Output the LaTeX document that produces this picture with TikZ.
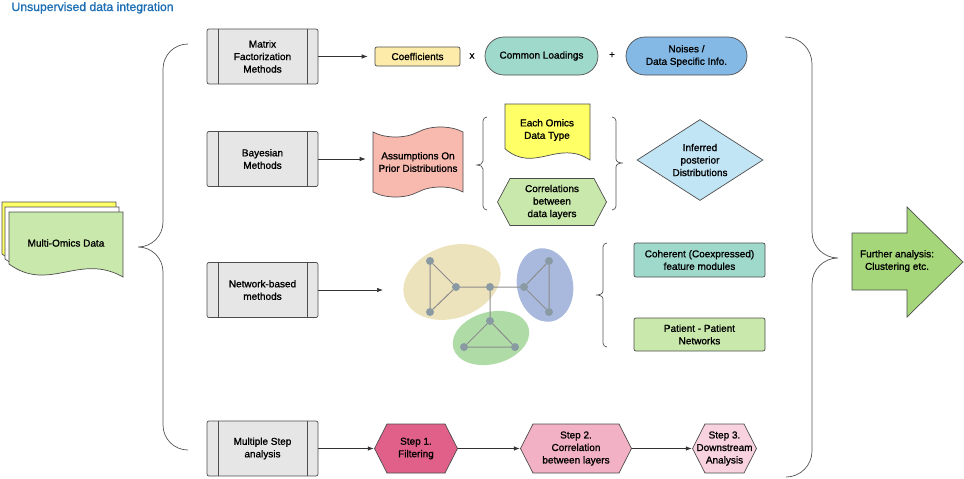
\documentclass[tikz,border=0pt]{standalone}
\usepackage{fontspec}
\setmainfont[FakeBold=1.2]{Liberation Sans}
\usetikzlibrary{arrows.meta,positioning,shapes.geometric,shapes.misc,shapes.symbols}

\definecolor{boxgray}{HTML}{E6E6E6}
\definecolor{linegray}{HTML}{4D4D4D}
\definecolor{arrowgray}{HTML}{333333}
\definecolor{bracegray}{HTML}{555555}
\definecolor{titleblue}{HTML}{1F6FB5}
\definecolor{coefyellow}{HTML}{FDEBA9}
\definecolor{loadteal}{HTML}{9FD9CB}
\definecolor{noiseblue}{HTML}{84B9E5}
\definecolor{tapepink}{HTML}{F8B9AF}
\definecolor{omicsyellow}{HTML}{FFFF66}
\definecolor{softgreen}{HTML}{C9E8AB}
\definecolor{inferblue}{HTML}{C2E5F6}
\definecolor{furthergreen}{HTML}{A5D77A}
\definecolor{stepdark}{HTML}{E0608A}
\definecolor{stepmid}{HTML}{F3B1C6}
\definecolor{steplight}{HTML}{F8D2DE}
\definecolor{dotgray}{HTML}{8A9AA3}
\definecolor{edgegray}{HTML}{8C8C8C}
\definecolor{ellyellow}{HTML}{ECE2BB}
\definecolor{ellblue}{HTML}{A9B9DD}
\definecolor{ellgreen}{HTML}{AFDBA7}

% document shape: fill, left, top, width, height
\newcommand{\docshape}[5]{\filldraw[edgeline, fill=#1, shift={(#2,#3)}, xscale=#4, yscale=#5] (0,0) -- (1,0) -- (1,1) .. controls (0.62,0.62) and (0.35,1.25) .. (0,0.8) -- cycle;}

\tikzset{
	every node/.style={font=\fontsize{10}{12.5}\selectfont, align=center},
	edgeline/.style={draw=linegray, line width=0.7pt},
	method/.style={edgeline, fill=boxgray, rounded corners=2pt, minimum width=111pt, minimum height=55pt, inner sep=0pt,
		path picture={\draw[linegray, line width=0.7pt] ([xshift=11pt]path picture bounding box.north west) -- ([xshift=11pt]path picture bounding box.south west) ([xshift=-11pt]path picture bounding box.north east) -- ([xshift=-11pt]path picture bounding box.south east);}},
	flowbox/.style={edgeline, inner sep=0pt},
	hexbox/.style={inner sep=0pt, minimum height=50pt,
		path picture={\filldraw[fill=#1, draw=linegray, line width=0.7pt] ([xshift=0.5pt]path picture bounding box.west) -- ([xshift=13pt,yshift=-0.5pt]path picture bounding box.north west) -- ([xshift=-13pt,yshift=-0.5pt]path picture bounding box.north east) -- ([xshift=-0.5pt]path picture bounding box.east) -- ([xshift=-13pt,yshift=0.5pt]path picture bounding box.south east) -- ([xshift=13pt,yshift=0.5pt]path picture bounding box.south west) -- cycle;}},
	netdot/.style={circle, fill=dotgray, inner sep=0pt, minimum size=8pt},
	netedge/.style={draw=edgegray, line width=1pt},
	curly/.style={draw=bracegray, line width=0.7pt},
	flow/.style={draw=arrowgray, line width=0.7pt, -{Latex[length=6pt,width=4.5pt]}},
}

\begin{document}
\begin{tikzpicture}[x=1pt, y=-1pt]
	\useasboundingbox (0,0) rectangle (964,479);
	\node[anchor=base west, font=\fontsize{12.2}{14}\selectfont, text=titleblue] (title) at (8,11) {Unsupervised data integration};

	% input data stack
	\docshape{omicsyellow}{2}{202}{114}{65}
	\docshape{white}{5}{207}{114}{65}
	\docshape{softgreen}{9}{212}{114}{65}
	\node (omics) at (66,243) {Multi-Omics Data};

	% braces round the methods
	\draw[curly] (188,44) to[out=180,in=90] (163,69) -- (163,222) to[out=-90,in=0] (138,247) to[out=0,in=90] (163,272) -- (163,425) to[out=-90,in=180] (188,450);
	\draw[curly] (785,37) to[out=0,in=90] (812,64) -- (812,232) to[out=-90,in=180] (838,258) to[out=180,in=90] (812,284) -- (812,451) to[out=-90,in=0] (786,477);

	% methods
	\node[method] (mf) at (262.5,56.5) {Matrix\\Factorization\\Methods};
	\node[method] (bayes) at (262.5,159) {Bayesian\\Methods};
	\node[method] (net) at (262.5,290) {Network-based\\methods};
	\node[method] (multi) at (262.5,448.5) {Multiple Step\\analysis};

	% matrix factorization
	\node[flowbox, fill=coefyellow, rounded corners=2pt, minimum width=85pt, minimum height=19pt] (coef) at (417.5,56.5) {Coefficients};
	\node (times) at (472,56) {x};
	\node[flowbox, rounded rectangle, fill=loadteal, minimum width=113pt, minimum height=38pt] (loadings) at (541.5,56) {Common Loadings};
	\node (plus) at (612,55) {+};
	\node[flowbox, rounded rectangle, fill=noiseblue, minimum width=121pt, minimum height=38pt] (noises) at (686.5,56) {Noises /\\Data Specific Info.};
	\draw[flow, shorten >=7pt] (mf) -- (coef);

	% bayesian
	\node[flowbox, tape, fill=tapepink, minimum width=90pt, minimum height=70pt, tape bend height=10pt] (assume) at (418,162) {Assumptions On\\Prior Distributions};
	\draw[flow, shorten >=7pt] (bayes) -- (bayes -| assume.west);
	\draw[curly] (487,117) to[out=180,in=90] (483,121) -- (483,161) to[out=-90,in=0] (477,165) to[out=0,in=90] (483,169) -- (483,206) to[out=-90,in=180] (487,210);
	\docshape{omicsyellow}{505}{104}{85}{56}
	\node (eachomics) at (547,130) {Each Omics\\Data Type};
	\node[hexbox=softgreen, minimum width=110pt, minimum height=48pt] (corr) at (552,202) {Correlations\\between\\data layers};
	\draw[curly] (612,117) to[out=0,in=90] (616,121) -- (616,159) to[out=-90,in=180] (623,163) to[out=180,in=90] (616,167) -- (616,206) to[out=-90,in=0] (612,210);
	\node[flowbox, diamond, aspect=1.55, fill=inferblue, minimum width=126pt, minimum height=81pt] (inferred) at (700,160) {Inferred\\posterior\\Distributions};

	% network
	\coordinate (netin) at (383,290);
	\draw[flow] (net) -- (netin);
	\fill[ellyellow, rotate around={20:(452,282)}] (452,282) ellipse [x radius=50, y radius=36];
	\fill[ellblue, rotate around={10:(545,285)}] (545,285) ellipse [x radius=28, y radius=37];
	\fill[ellgreen, rotate around={15:(491,338)}] (491,338) ellipse [x radius=39, y radius=26];
	\node[netdot] (g1) at (430,261) {};
	\node[netdot] (g2) at (430,312) {};
	\node[netdot] (g3) at (456,287) {};
	\node[netdot] (g4) at (490,287) {};
	\node[netdot] (g5) at (524,287) {};
	\node[netdot] (g6) at (549,261) {};
	\node[netdot] (g7) at (549,312) {};
	\node[netdot] (g8) at (490,321) {};
	\node[netdot] (g9) at (464,347) {};
	\node[netdot] (g10) at (515,347) {};
	\draw[netedge] (g1) -- (g2) (g1) -- (g3) (g2) -- (g3) (g3) -- (g4) (g4) -- (g5) (g4) -- (g8);
	\draw[netedge] (g5) -- (g6) (g5) -- (g7) (g6) -- (g7) (g8) -- (g9) (g8) -- (g10) (g9) -- (g10);
	\draw[curly] (607,243) to[out=180,in=90] (603,247) -- (603,291) to[out=-90,in=0] (596,295) to[out=0,in=90] (603,299) -- (603,343) to[out=-90,in=180] (607,347);
	\node[flowbox, fill=loadteal, rounded corners=2pt, minimum width=131pt, minimum height=34pt] (coherent) at (699.5,260) {Coherent (Coexpressed)\\feature modules};
	\node[flowbox, fill=softgreen, rounded corners=2pt, minimum width=131pt, minimum height=33pt] (patient) at (699.5,334.5) {Patient - Patient\\Networks};

	% further analysis
	\filldraw[edgeline, fill=furthergreen] (852,233) -- (907,233) -- (907,207) -- (963,262) -- (907,317) -- (907,290) -- (852,290) -- cycle;
	\node (further) at (897,261) {Further analysis:\\Clustering etc.};

	% multiple steps
	\node[hexbox=stepdark, minimum width=84pt] (step1) at (416,448.5) {Step 1.\\Filtering};
	\node[hexbox=stepmid, minimum width=112pt] (step2) at (576,448.5) {Step 2.\\Correlation\\between layers};
	\node[hexbox=steplight, minimum width=65pt] (step3) at (724.5,448.5) {Step 3.\\Downstream\\Analysis};
	\draw[flow] (multi) -- (step1);
	\draw[flow] (step1) -- (step2);
	\draw[flow] (step2) -- (step3);
\end{tikzpicture}
\end{document}
